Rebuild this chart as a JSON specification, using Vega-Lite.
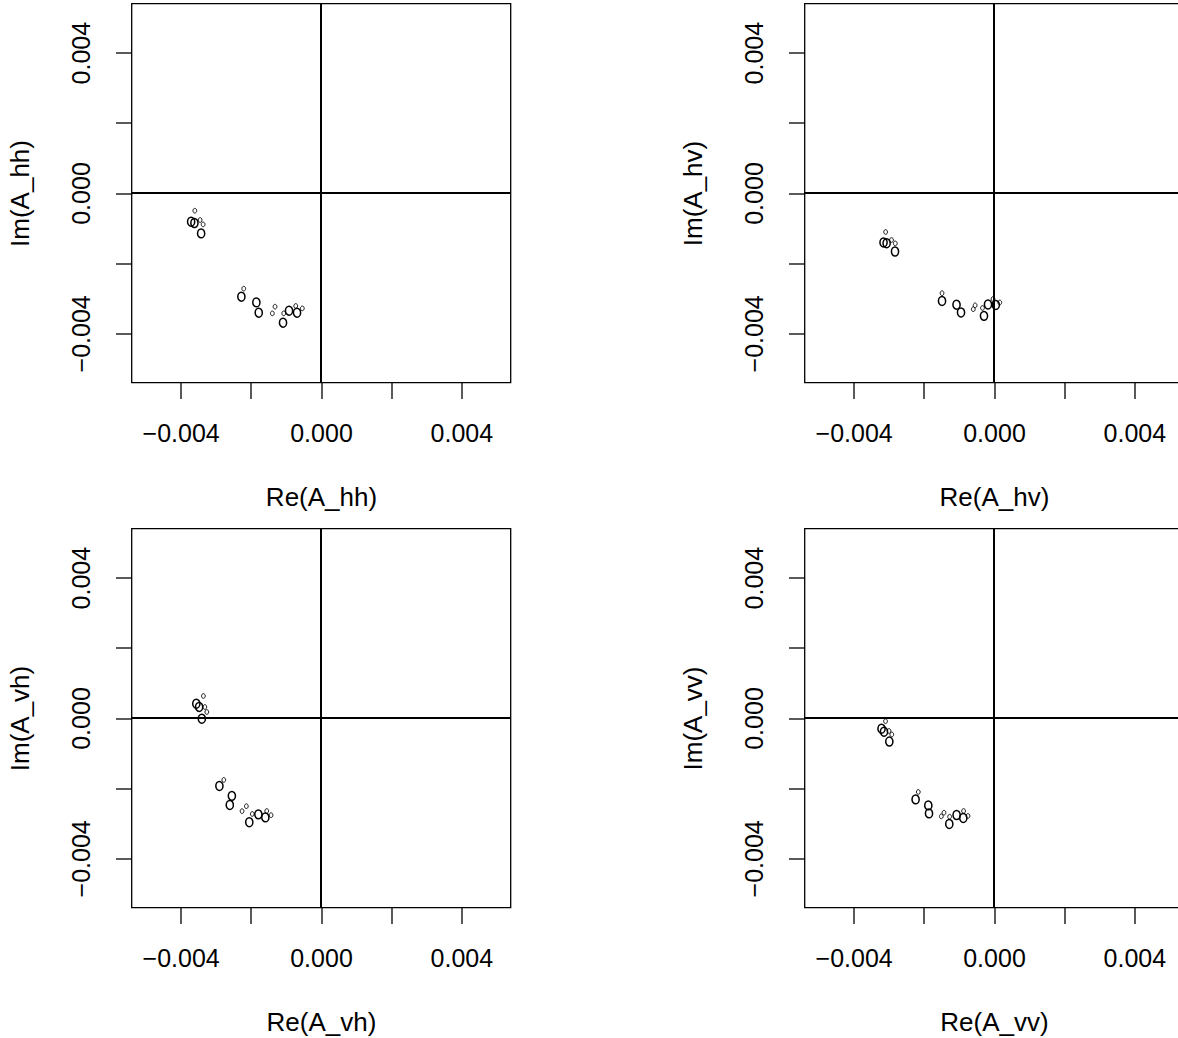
{
  "$schema": "https://vega.github.io/schema/vega-lite/v6.json",
  "background": "white",
  "autosize": {"type": "pad"},
  "padding": {"left": 6.5, "top": 1.5, "right": 0, "bottom": 0},
  "datasets": {
    "hh": [
      {"re": -0.003596, "im": -0.000504, "kind": "small"},
      {"re": -0.003701, "im": -0.000818, "kind": "large"},
      {"re": -0.003607, "im": -0.000855, "kind": "large"},
      {"re": -0.003445, "im": -0.000769, "kind": "small"},
      {"re": -0.003359, "im": -0.000895, "kind": "small"},
      {"re": -0.003416, "im": -0.001151, "kind": "large"},
      {"re": -0.002201, "im": -0.002726, "kind": "small"},
      {"re": -0.002269, "im": -0.002954, "kind": "large"},
      {"re": -0.001842, "im": -0.003117, "kind": "large"},
      {"re": -0.001774, "im": -0.003410, "kind": "large"},
      {"re": -0.001310, "im": -0.003239, "kind": "small"},
      {"re": -0.001386, "im": -0.003430, "kind": "small"},
      {"re": -0.001062, "im": -0.003430, "kind": "small"},
      {"re": -0.001082, "im": -0.003695, "kind": "large"},
      {"re": -0.000911, "im": -0.003353, "kind": "large"},
      {"re": -0.000720, "im": -0.003219, "kind": "small"},
      {"re": -0.000683, "im": -0.003410, "kind": "large"},
      {"re": -0.000532, "im": -0.003288, "kind": "small"}
    ],
    "hv": [
      {"re": -0.003088, "im": -0.001111, "kind": "small"},
      {"re": -0.003148, "im": -0.001410, "kind": "large"},
      {"re": -0.003060, "im": -0.001430, "kind": "large"},
      {"re": -0.002920, "im": -0.001339, "kind": "small"},
      {"re": -0.002812, "im": -0.001436, "kind": "small"},
      {"re": -0.002821, "im": -0.001667, "kind": "large"},
      {"re": -0.001481, "im": -0.002855, "kind": "small"},
      {"re": -0.001481, "im": -0.003077, "kind": "large"},
      {"re": -0.001068, "im": -0.003182, "kind": "large"},
      {"re": -0.000940, "im": -0.003405, "kind": "large"},
      {"re": -0.000590, "im": -0.003311, "kind": "small"},
      {"re": -0.000538, "im": -0.003202, "kind": "small"},
      {"re": -0.000328, "im": -0.003276, "kind": "small"},
      {"re": -0.000285, "im": -0.003501, "kind": "large"},
      {"re": -0.000171, "im": -0.003177, "kind": "large"},
      {"re": -0.000028, "im": -0.003020, "kind": "small"},
      {"re": 0.000051, "im": -0.003191, "kind": "large"},
      {"re": 0.000165, "im": -0.003120, "kind": "small"}
    ],
    "vh": [
      {"re": -0.003351, "im": 0.000627, "kind": "small"},
      {"re": -0.003553, "im": 0.000407, "kind": "large"},
      {"re": -0.003473, "im": 0.000316, "kind": "large"},
      {"re": -0.003311, "im": 0.000313, "kind": "small"},
      {"re": -0.003254, "im": 0.000171, "kind": "small"},
      {"re": -0.003396, "im": -0.000020, "kind": "large"},
      {"re": -0.002770, "im": -0.001764, "kind": "small"},
      {"re": -0.002895, "im": -0.001937, "kind": "large"},
      {"re": -0.002540, "im": -0.002219, "kind": "large"},
      {"re": -0.002599, "im": -0.002479, "kind": "large"},
      {"re": -0.002249, "im": -0.002655, "kind": "small"},
      {"re": -0.002127, "im": -0.002513, "kind": "small"},
      {"re": -0.001959, "im": -0.002735, "kind": "small"},
      {"re": -0.002044, "im": -0.002969, "kind": "large"},
      {"re": -0.001785, "im": -0.002746, "kind": "large"},
      {"re": -0.001546, "im": -0.002650, "kind": "small"},
      {"re": -0.001586, "im": -0.002832, "kind": "large"},
      {"re": -0.001423, "im": -0.002769, "kind": "small"}
    ],
    "vv": [
      {"re": -0.003091, "im": -0.000091, "kind": "small"},
      {"re": -0.003205, "im": -0.000305, "kind": "large"},
      {"re": -0.003134, "im": -0.000390, "kind": "large"},
      {"re": -0.002991, "im": -0.000370, "kind": "small"},
      {"re": -0.002912, "im": -0.000470, "kind": "small"},
      {"re": -0.002983, "im": -0.000670, "kind": "large"},
      {"re": -0.002157, "im": -0.002108, "kind": "small"},
      {"re": -0.002234, "im": -0.002319, "kind": "large"},
      {"re": -0.001872, "im": -0.002490, "kind": "large"},
      {"re": -0.001852, "im": -0.002718, "kind": "large"},
      {"re": -0.001501, "im": -0.002803, "kind": "small"},
      {"re": -0.001425, "im": -0.002698, "kind": "small"},
      {"re": -0.001265, "im": -0.002812, "kind": "small"},
      {"re": -0.001274, "im": -0.003020, "kind": "large"},
      {"re": -0.001066, "im": -0.002764, "kind": "large"},
      {"re": -0.000866, "im": -0.002650, "kind": "small"},
      {"re": -0.000875, "im": -0.002849, "kind": "large"},
      {"re": -0.000741, "im": -0.002792, "kind": "small"}
    ]
  },
  "columns": 2,
  "spacing": {"row": 146, "column": 294},
  "bounds": "flush",
  "concat": [
    {
      "width": 379, "height": 379,
      "data": {"name": "hh"},
      "layer": [
        {"mark": {"type": "rule", "color": "black", "strokeWidth": 1.2},
         "encoding": {"x": {"datum": 0, "type": "quantitative", "scale": {"domain": [-0.0054, 0.0054], "nice": false, "zero": false}, "axis": {"title": "Re(A_hh)", "values": [-0.004, -0.002, 0, 0.002, 0.004], "format": ".3f", "labelExpr": "abs(abs(datum.value) - 0.004) < 1e-9 || abs(datum.value) < 1e-9 ? datum.label : ''"}}}},
        {"mark": {"type": "rule", "color": "black", "strokeWidth": 1.2},
         "encoding": {"y": {"datum": 0, "type": "quantitative", "scale": {"domain": [-0.0054, 0.0054], "nice": false, "zero": false}, "axis": {"title": "Im(A_hh)", "values": [-0.004, -0.002, 0, 0.002, 0.004], "format": ".3f", "labelExpr": "abs(abs(datum.value) - 0.004) < 1e-9 || abs(datum.value) < 1e-9 ? datum.label : ''"}}}},
        {"mark": {"type": "point", "filled": false, "color": "black", "opacity": 1, "shape": "M0,-1C0.442,-1,0.8,-0.552,0.8,0C0.8,0.552,0.442,1,0,1C-0.442,1,-0.8,0.552,-0.8,0C-0.8,-0.552,-0.442,-1,0,-1Z"},
         "encoding": {
           "x": {"field": "re", "type": "quantitative", "title": "Re(A_hh)"},
           "y": {"field": "im", "type": "quantitative", "title": "Im(A_hh)"},
           "size": {"field": "kind", "type": "nominal", "scale": {"domain": ["large", "small"], "range": [80, 22]}, "legend": null},
           "strokeWidth": {"field": "kind", "type": "nominal", "scale": {"domain": ["large", "small"], "range": [1.5, 0.9]}, "legend": null}
         }}
      ]
    },
    {
      "width": 379, "height": 379,
      "data": {"name": "hv"},
      "layer": [
        {"mark": {"type": "rule", "color": "black", "strokeWidth": 1.2},
         "encoding": {"x": {"datum": 0, "type": "quantitative", "scale": {"domain": [-0.0054, 0.0054], "nice": false, "zero": false}, "axis": {"title": "Re(A_hv)", "values": [-0.004, -0.002, 0, 0.002, 0.004], "format": ".3f", "labelExpr": "abs(abs(datum.value) - 0.004) < 1e-9 || abs(datum.value) < 1e-9 ? datum.label : ''"}}}},
        {"mark": {"type": "rule", "color": "black", "strokeWidth": 1.2},
         "encoding": {"y": {"datum": 0, "type": "quantitative", "scale": {"domain": [-0.0054, 0.0054], "nice": false, "zero": false}, "axis": {"title": "Im(A_hv)", "values": [-0.004, -0.002, 0, 0.002, 0.004], "format": ".3f", "labelExpr": "abs(abs(datum.value) - 0.004) < 1e-9 || abs(datum.value) < 1e-9 ? datum.label : ''"}}}},
        {"mark": {"type": "point", "filled": false, "color": "black", "opacity": 1, "shape": "M0,-1C0.442,-1,0.8,-0.552,0.8,0C0.8,0.552,0.442,1,0,1C-0.442,1,-0.8,0.552,-0.8,0C-0.8,-0.552,-0.442,-1,0,-1Z"},
         "encoding": {
           "x": {"field": "re", "type": "quantitative", "title": "Re(A_hv)"},
           "y": {"field": "im", "type": "quantitative", "title": "Im(A_hv)"},
           "size": {"field": "kind", "type": "nominal", "scale": {"domain": ["large", "small"], "range": [80, 22]}, "legend": null},
           "strokeWidth": {"field": "kind", "type": "nominal", "scale": {"domain": ["large", "small"], "range": [1.5, 0.9]}, "legend": null}
         }}
      ]
    },
    {
      "width": 379, "height": 379,
      "data": {"name": "vh"},
      "layer": [
        {"mark": {"type": "rule", "color": "black", "strokeWidth": 1.2},
         "encoding": {"x": {"datum": 0, "type": "quantitative", "scale": {"domain": [-0.0054, 0.0054], "nice": false, "zero": false}, "axis": {"title": "Re(A_vh)", "values": [-0.004, -0.002, 0, 0.002, 0.004], "format": ".3f", "labelExpr": "abs(abs(datum.value) - 0.004) < 1e-9 || abs(datum.value) < 1e-9 ? datum.label : ''"}}}},
        {"mark": {"type": "rule", "color": "black", "strokeWidth": 1.2},
         "encoding": {"y": {"datum": 0, "type": "quantitative", "scale": {"domain": [-0.0054, 0.0054], "nice": false, "zero": false}, "axis": {"title": "Im(A_vh)", "values": [-0.004, -0.002, 0, 0.002, 0.004], "format": ".3f", "labelExpr": "abs(abs(datum.value) - 0.004) < 1e-9 || abs(datum.value) < 1e-9 ? datum.label : ''"}}}},
        {"mark": {"type": "point", "filled": false, "color": "black", "opacity": 1, "shape": "M0,-1C0.442,-1,0.8,-0.552,0.8,0C0.8,0.552,0.442,1,0,1C-0.442,1,-0.8,0.552,-0.8,0C-0.8,-0.552,-0.442,-1,0,-1Z"},
         "encoding": {
           "x": {"field": "re", "type": "quantitative", "title": "Re(A_vh)"},
           "y": {"field": "im", "type": "quantitative", "title": "Im(A_vh)"},
           "size": {"field": "kind", "type": "nominal", "scale": {"domain": ["large", "small"], "range": [80, 22]}, "legend": null},
           "strokeWidth": {"field": "kind", "type": "nominal", "scale": {"domain": ["large", "small"], "range": [1.5, 0.9]}, "legend": null}
         }}
      ]
    },
    {
      "width": 379, "height": 379,
      "data": {"name": "vv"},
      "layer": [
        {"mark": {"type": "rule", "color": "black", "strokeWidth": 1.2},
         "encoding": {"x": {"datum": 0, "type": "quantitative", "scale": {"domain": [-0.0054, 0.0054], "nice": false, "zero": false}, "axis": {"title": "Re(A_vv)", "values": [-0.004, -0.002, 0, 0.002, 0.004], "format": ".3f", "labelExpr": "abs(abs(datum.value) - 0.004) < 1e-9 || abs(datum.value) < 1e-9 ? datum.label : ''"}}}},
        {"mark": {"type": "rule", "color": "black", "strokeWidth": 1.2},
         "encoding": {"y": {"datum": 0, "type": "quantitative", "scale": {"domain": [-0.0054, 0.0054], "nice": false, "zero": false}, "axis": {"title": "Im(A_vv)", "values": [-0.004, -0.002, 0, 0.002, 0.004], "format": ".3f", "labelExpr": "abs(abs(datum.value) - 0.004) < 1e-9 || abs(datum.value) < 1e-9 ? datum.label : ''"}}}},
        {"mark": {"type": "point", "filled": false, "color": "black", "opacity": 1, "shape": "M0,-1C0.442,-1,0.8,-0.552,0.8,0C0.8,0.552,0.442,1,0,1C-0.442,1,-0.8,0.552,-0.8,0C-0.8,-0.552,-0.442,-1,0,-1Z"},
         "encoding": {
           "x": {"field": "re", "type": "quantitative", "title": "Re(A_vv)"},
           "y": {"field": "im", "type": "quantitative", "title": "Im(A_vv)"},
           "size": {"field": "kind", "type": "nominal", "scale": {"domain": ["large", "small"], "range": [80, 22]}, "legend": null},
           "strokeWidth": {"field": "kind", "type": "nominal", "scale": {"domain": ["large", "small"], "range": [1.5, 0.9]}, "legend": null}
         }}
      ]
    }
  ],
  "config": {
    "font": "Liberation Sans",
    "view": {"stroke": "black", "strokeWidth": 1.3},
    "axis": {
      "grid": false, "domain": false,
      "tickColor": "black", "tickWidth": 1.3, "tickSize": 16,
      "labelFont": "Liberation Sans", "labelFontSize": 25, "labelColor": "black",
      "labelFlush": false, "labelOverlap": false,
      "titleFont": "Liberation Sans", "titleFontSize": 26, "titleFontWeight": "normal", "titleColor": "black"
    },
    "axisX": {"labelPadding": 23, "titlePadding": 38},
    "axisY": {"labelPadding": 21, "titlePadding": 36, "labelAngle": -90, "labelAlign": "center", "labelBaseline": "bottom"}
  }
}
